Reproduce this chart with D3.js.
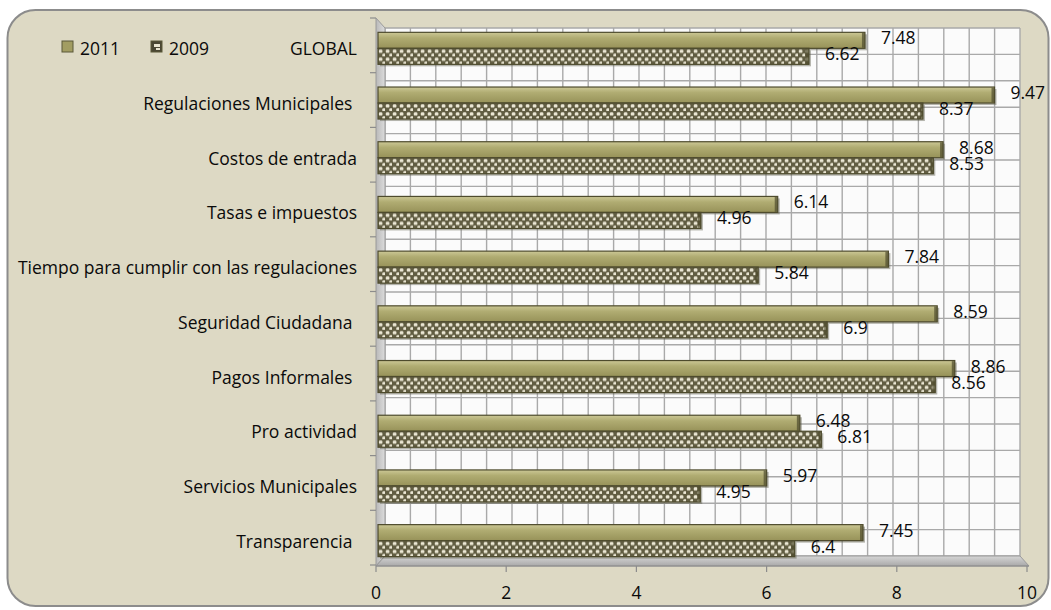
<!DOCTYPE html>
<html>
<head>
<meta charset="utf-8">
<script src="https://cdn.jsdelivr.net/npm/d3@7"></script>
<style>
  body { margin: 0; background: #ffffff; }
  text { font-family: "Open Sans", sans-serif; fill: #0a0a0a; }
</style>
</head>
<body>
<svg id="chart" width="1051" height="610"></svg>
<script>
// Category labels (top to bottom) and the two survey years
const categories = [
  "GLOBAL",
  "Regulaciones Municipales ",
  "Costos de entrada",
  "Tasas e impuestos",
  "Tiempo para cumplir con las regulaciones",
  "Seguridad Ciudadana ",
  "Pagos Informales ",
  "Pro actividad",
  "Servicios Municipales",
  "Transparencia "
];
const seriesNames = ["2011", "2009"];
const values2011 = [7.48, 9.47, 8.68, 6.14, 7.84, 8.59, 8.86, 6.48, 5.97, 7.45];
const values2009 = [6.62, 8.37, 8.53, 4.96, 5.84, 6.9, 8.56, 6.81, 4.95, 6.4];
const xTicks = [0, 2, 4, 6, 8, 10];

const svg = d3.select("#chart");
const defs = svg.append("defs");

// Front (floor edge) and back-wall scales of the 3-D box
const x = d3.scaleLinear().domain([0, 10]).range([378, 1029]);
const xBack = d3.scaleLinear().domain([0, 10]).range([385, 1020]);
const y = d3.scaleBand().domain(categories).range([18, 565]);
const yBack = d3.scaleBand().domain(categories).range([28, 556]);
const bw = y.bandwidth();
const ySub = d3.scaleBand().domain(seriesNames).range([bw * 0.262, bw * 0.847]);

const front = { left: 376, top: 18, bottom: 566, right: x(10) };
const back = { left: xBack(0), right: xBack(10), top: yBack.range()[0], bottom: yBack.range()[1] };

// Gradients and fills
const g2011 = defs.append("linearGradient").attr("id", "g2011").attr("x1", 0).attr("y1", 0).attr("x2", 0).attr("y2", 1);
g2011.append("stop").attr("offset", "0%").attr("stop-color", "#ccc896");
g2011.append("stop").attr("offset", "35%").attr("stop-color", "#b0ac72");
g2011.append("stop").attr("offset", "100%").attr("stop-color", "#979259");

const wallGrad = defs.append("linearGradient").attr("id", "wallGrad").attr("x1", 0).attr("y1", 0).attr("x2", 1).attr("y2", 0);
wallGrad.append("stop").attr("offset", "0%").attr("stop-color", "#b9b9b9");
wallGrad.append("stop").attr("offset", "100%").attr("stop-color", "#dcdcdc");

const floorGrad = defs.append("linearGradient").attr("id", "floorGrad").attr("x1", 0).attr("y1", 0).attr("x2", 0).attr("y2", 1);
floorGrad.append("stop").attr("offset", "0%").attr("stop-color", "#d6d6d6");
floorGrad.append("stop").attr("offset", "100%").attr("stop-color", "#a9a9a9");

function dotPattern(id, top) {
  const p = defs.append("pattern").attr("id", id)
    .attr("patternUnits", "userSpaceOnUse")
    .attr("x", 0).attr("y", top).attr("width", 7).attr("height", 8);
  p.append("rect").attr("width", 7).attr("height", 8).attr("fill", "#615d42");
  p.append("rect").attr("x", 0.8).attr("y", 1.2).attr("width", 3.6).attr("height", 3.4).attr("rx", 1.2).attr("fill", "#ebe7d4");
  p.append("rect").attr("x", 4.3).attr("y", 5.2).attr("width", 3.6).attr("height", 3.4).attr("rx", 1.2).attr("fill", "#ebe7d4");
}

// Chart area with rounded border
svg.append("rect")
  .attr("x", 7.5).attr("y", 10).attr("width", 1041).attr("height", 596).attr("rx", 28)
  .attr("fill", "#ddd9c4").attr("stroke", "#8c8c8c").attr("stroke-width", 2);

// Back wall
svg.append("rect")
  .attr("x", back.left).attr("y", back.top)
  .attr("width", back.right - back.left).attr("height", back.bottom - back.top)
  .attr("fill", "#fbfbfb");

// Vertical gridlines on the back wall (major 2, minor 0.4)
const gridVals = d3.range(0, 26).map(i => i * 0.4);
svg.append("g").selectAll("line").data(gridVals).join("line")
  .attr("x1", d => xBack(d)).attr("x2", d => xBack(d))
  .attr("y1", back.top).attr("y2", back.bottom)
  .attr("stroke", "#a9a9a9").attr("stroke-width", 1.4);

// Horizontal gridlines on the back wall (band edges and centres)
const hVals = [];
categories.forEach(c => { hVals.push(yBack(c)); hVals.push(yBack(c) + yBack.bandwidth() / 2); });
hVals.push(back.bottom);
svg.append("g").selectAll("line").data(hVals).join("line")
  .attr("x1", back.left).attr("x2", back.right)
  .attr("y1", d => d).attr("y2", d => d)
  .attr("stroke", "#a9a9a9").attr("stroke-width", 1.4);

// Left side wall and floor
svg.append("path")
  .attr("d", `M${front.left},${front.top} L${back.left},${back.top} L${back.left},${back.bottom} L${front.left},${front.bottom} Z`)
  .attr("fill", "url(#wallGrad)").attr("stroke", "#9a9a9a").attr("stroke-width", 1);
svg.append("path")
  .attr("d", `M${back.left},${back.bottom} L${back.right},${back.bottom} L${front.right},${front.bottom} L${front.left},${front.bottom} Z`)
  .attr("fill", "url(#floorGrad)").attr("stroke", "#9a9a9a").attr("stroke-width", 1);

// Bars
const rows = categories.map((c, i) => ({ cat: c, i, v2011: values2011[i], v2009: values2009[i] }));
const barData = [];
rows.forEach(r => {
  barData.push({ cat: r.cat, i: r.i, series: "2011", value: r.v2011 });
  barData.push({ cat: r.cat, i: r.i, series: "2009", value: r.v2009 });
});
barData.forEach(d => {
  if (d.series === "2009") dotPattern("dots" + d.i, y(d.cat) + ySub("2009"));
});

const hb = ySub.bandwidth();
const bars = svg.append("g");
// soft shadow under each bar
bars.selectAll("rect.shadow").data(barData).join("rect")
  .attr("class", "shadow")
  .attr("x", x(0) + 2).attr("y", d => y(d.cat) + ySub(d.series) + 2)
  .attr("width", d => x(d.value) - x(0)).attr("height", hb)
  .attr("fill", "#5e5e4c").attr("opacity", 0.45);
bars.selectAll("rect.bar").data(barData).join("rect")
  .attr("class", "bar")
  .attr("x", x(0)).attr("y", d => y(d.cat) + ySub(d.series))
  .attr("width", d => x(d.value) - x(0)).attr("height", hb)
  .attr("fill", d => d.series === "2011" ? "url(#g2011)" : `url(#dots${d.i})`)
  .attr("stroke", "#4e4b2d").attr("stroke-width", 1.2);
// dark end caps
bars.selectAll("rect.cap").data(barData).join("rect")
  .attr("class", "cap")
  .attr("x", d => x(d.value) - 3).attr("y", d => y(d.cat) + ySub(d.series) + 0.6)
  .attr("width", 3).attr("height", hb - 1.2)
  .attr("fill", "#4e4b2d").attr("opacity", 0.7);

// Value labels
svg.append("g").selectAll("text").data(barData).join("text")
  .attr("x", d => x(d.value) + 16)
  .attr("y", d => y(d.cat) + ySub(d.series) + hb / 2 - 3)
  .attr("dominant-baseline", "central")
  .attr("font-size", 17.5)
  .text(d => d.value);

// Category axis: ticks at band edges and right-aligned labels
const bandEdges = categories.map(c => y(c)).concat([y.range()[1]]);
svg.append("g").selectAll("line").data(bandEdges).join("line")
  .attr("x1", front.left - 6).attr("x2", front.left)
  .attr("y1", d => d).attr("y2", d => d)
  .attr("stroke", "#8c8c8c").attr("stroke-width", 1.2);
svg.append("g").selectAll("text").data(categories).join("text")
  .attr("x", 357)
  .attr("y", d => y(d) + bw / 2 + 3)
  .attr("text-anchor", "end")
  .attr("dominant-baseline", "central")
  .attr("font-size", 17.5)
  .style("white-space", "pre")
  .text(d => d);

// Value axis along the front edge of the floor
svg.append("line")
  .attr("x1", front.left).attr("x2", front.right)
  .attr("y1", front.bottom).attr("y2", front.bottom)
  .attr("stroke", "#8c8c8c").attr("stroke-width", 1.2);
svg.append("g").selectAll("line").data(xTicks).join("line")
  .attr("x1", d => x(d) - 2).attr("x2", d => x(d) - 2)
  .attr("y1", front.bottom).attr("y2", front.bottom + 6)
  .attr("stroke", "#8c8c8c").attr("stroke-width", 1.2);
svg.append("g").selectAll("text").data(xTicks).join("text")
  .attr("x", d => x(d) - 2)
  .attr("y", 592)
  .attr("text-anchor", "middle")
  .attr("dominant-baseline", "central")
  .attr("font-size", 17.5)
  .text(d => d);

// Legend
const legend = svg.append("g");
const legendItems = [{ name: "2011", x: 62 }, { name: "2009", x: 151 }];
legend.selectAll("rect").data(legendItems).join("rect")
  .attr("x", d => d.x).attr("y", 41).attr("width", 11).attr("height", 11)
  .attr("fill", d => d.name === "2011" ? "#a29d62" : "#4a4733")
  .attr("stroke", "#5a5838").attr("stroke-width", 1);
legend.append("rect").attr("x", 154).attr("y", 44).attr("width", 6).attr("height", 3).attr("fill", "#e8e4cf");
legend.append("rect").attr("x", 156).attr("y", 48).attr("width", 4).attr("height", 2).attr("fill", "#e8e4cf");
legend.selectAll("text").data(legendItems).join("text")
  .attr("x", d => d.x + 18).attr("y", 48)
  .attr("dominant-baseline", "central")
  .attr("font-size", 17.5)
  .text(d => d.name);
</script>
</body>
</html>
